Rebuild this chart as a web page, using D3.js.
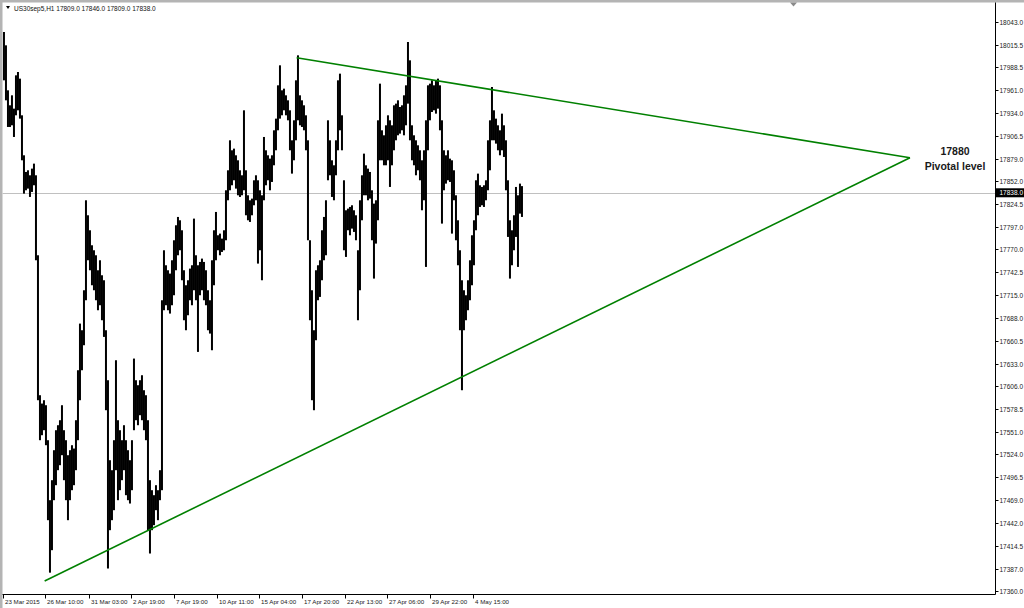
<!DOCTYPE html>
<html><head><meta charset="utf-8">
<script src="https://cdn.jsdelivr.net/npm/d3@7"></script>
<style>body{margin:0;background:#fff}svg{display:block}</style>
</head><body>
<svg id="c" width="1024" height="608"></svg>
<script>
// ---------- data ----------
const symbolTitle = "US30sep5,H1";
const lastOHLC = [17809.0, 17846.0, 17809.0, 17838.0];
const currentPrice = 17838.0;
// one entry = 3 hourly bars (high / low of the group)
const highs = [
18031,18015,17961,17943,17955,17939,17979,17983,17975,17931,
17883,17863,17865,17859,17867,17873,17859,17763,17595,17585,
17589,17583,17541,17469,17493,17529,17553,17559,17565,17583,
17553,17541,17523,17529,17535,17531,17565,17625,17681,17673,
17721,17829,17811,17793,17775,17769,17763,17745,17757,17739,
17733,17673,17613,17517,17505,17541,17637,17565,17553,17541,
17559,17541,17529,17517,17541,17639,17613,17607,17613,17619,
17601,17595,17565,17493,17481,17475,17487,17481,17505,17709,
17769,17751,17745,17741,17757,17781,17799,17809,17805,17793,
17745,17727,17733,17747,17751,17807,17763,17751,17755,17759,
17755,17745,17721,17709,17757,17793,17815,17787,17789,17783,
17793,17841,17865,17901,17889,17891,17883,17877,17865,17859,
17937,17865,17835,17829,17831,17853,17859,17853,17841,17835,
17905,17889,17883,17879,17883,17913,17927,17967,17991,17961,
17963,17955,17949,17937,17901,17925,17973,18003,17955,17949,
17943,17931,17901,17781,17721,17673,17745,17751,17757,17793,
17809,17829,17925,17901,17877,17871,17901,17973,17981,17931,
17853,17817,17819,17821,17823,17817,17811,17769,17829,17859,
17885,17871,17867,17863,17841,17825,17829,17925,17969,17913,
17907,17919,17931,17925,17919,17943,17945,17949,17941,17943,
17955,17967,18019,17997,17919,17907,17901,17895,17889,17877,
17889,17925,17967,17969,17973,17967,17973,17975,17967,17925,
17889,17883,17889,17879,17877,17865,17835,17805,17769,17733,
17721,17715,17733,17757,17787,17805,17853,17861,17847,17845,
17847,17853,17901,17925,17965,17937,17927,17919,17913,17933,
17919,17901,17853,17805,17793,17811,17845,17835,17849,17846];
const lows = [
17973,17949,17917,17917,17919,17905,17931,17937,17927,17877,
17837,17841,17843,17833,17839,17847,17757,17589,17541,17547,
17553,17535,17445,17382,17409,17469,17487,17505,17511,17523,
17493,17469,17445,17469,17481,17487,17505,17541,17589,17625,
17655,17709,17757,17745,17727,17721,17709,17697,17703,17685,
17665,17577,17387,17433,17445,17457,17505,17469,17481,17493,
17505,17475,17469,17465,17481,17553,17565,17559,17571,17565,
17553,17541,17433,17405,17433,17439,17457,17445,17469,17481,
17697,17703,17697,17693,17703,17715,17745,17763,17769,17733,
17685,17673,17691,17709,17703,17721,17709,17647,17715,17721,
17709,17703,17673,17669,17649,17727,17757,17769,17763,17767,
17769,17781,17829,17841,17847,17853,17843,17835,17833,17835,
17841,17811,17805,17803,17811,17823,17829,17753,17769,17733,
17829,17847,17853,17841,17851,17871,17889,17913,17927,17931,
17937,17931,17925,17889,17861,17877,17901,17925,17919,17917,
17913,17889,17781,17685,17589,17577,17661,17709,17713,17733,
17757,17763,17853,17859,17833,17829,17859,17889,17913,17889,
17769,17761,17793,17787,17795,17791,17781,17685,17721,17805,
17835,17835,17829,17831,17781,17735,17777,17805,17877,17877,
17871,17871,17877,17845,17871,17889,17901,17907,17909,17913,
17907,17919,17945,17901,17877,17871,17859,17865,17853,17817,
17829,17749,17889,17925,17935,17937,17933,17939,17913,17801,
17841,17849,17853,17851,17789,17829,17781,17751,17673,17601,
17673,17685,17697,17709,17727,17751,17793,17811,17821,17823,
17821,17829,17841,17865,17901,17901,17897,17889,17883,17889,
17881,17841,17785,17735,17751,17769,17785,17749,17813,17809];
const hoursPerEntry = 3;
const yTickValues = [18043.0,18015.5,17988.5,17961.0,17934.0,17906.5,17879.0,17852.0,17824.5,17797.0,17770.0,17742.5,17715.0,17688.0,17660.5,17633.0,17606.0,17578.5,17551.0,17524.0,17496.5,17469.0,17442.0,17414.5,17387.0,17360.0];
const xTickBars = [0,62,128,192,256,320,384,448,512,576,640,704];
const xTickLabels = ["23 Mar 2015","26 Mar 10:00","31 Mar 03:00","2 Apr 19:00","7 Apr 19:00","10 Apr 11:00","15 Apr 04:00","17 Apr 20:00","22 Apr 13:00","27 Apr 06:00","29 Apr 22:00","4 May 15:00"];
// trend lines: [bar index, price]
const upperTrend = [[440,18000],[1360,17880]];
const lowerTrend = [[62,17372],[1360,17880]];
const pivotText = ["17880","Pivotal level"];

// ---------- layout ----------
const svg = d3.select("#c");
const axisX = 995.5, axisY = 594.5, left = 2.5;
const font = "'Liberation Sans', Arial, sans-serif";
const x = d3.scaleLinear().domain([0,1500]).range([3.3,1003.3]);
const y = d3.scaleLinear().domain([17360,18043]).range([591,22]);

// frame
svg.append("rect").attr("x",0).attr("y",0).attr("width",1024).attr("height",608).attr("fill","#fff");
svg.append("rect").attr("x",0).attr("y",0).attr("width",1024).attr("height",2.5).attr("fill","#b4b4b4");
svg.append("rect").attr("x",0).attr("y",0).attr("width",2.5).attr("height",608).attr("fill","#b4b4b4");
svg.append("path").attr("d","M790,2.5 L797,2.5 L793.5,6.5 Z").attr("fill","#8a8a8a");

// current price line
svg.append("line").attr("x1",left).attr("x2",axisX).attr("y1",Math.round(y(currentPrice))+0.5).attr("y2",Math.round(y(currentPrice))+0.5)
  .attr("stroke","#c0c0c0").attr("stroke-width",1);

// bars
svg.append("g").selectAll("line").data(highs).join("line")
  .attr("x1",(d,i)=>x(i*hoursPerEntry+1)).attr("x2",(d,i)=>x(i*hoursPerEntry+1))
  .attr("y1",d=>y(d)).attr("y2",(d,i)=>y(lows[i]))
  .attr("stroke","#000").attr("stroke-width",2);

// trend lines
[upperTrend, lowerTrend].forEach(t=>{
  svg.append("line").attr("x1",x(t[0][0])).attr("y1",y(t[0][1])).attr("x2",x(t[1][0])).attr("y2",y(t[1][1]))
    .attr("stroke","#008000").attr("stroke-width",1.6);
});

// pivot annotation
svg.append("text").attr("x",955).attr("y",y(upperTrend[1][1])-3).attr("text-anchor","middle")
  .attr("font-family",font).attr("font-weight","bold").attr("font-size",10.5).attr("fill","#1a1a1a").text(pivotText[0]);
svg.append("text").attr("x",955).attr("y",y(upperTrend[1][1])+12).attr("text-anchor","middle")
  .attr("font-family",font).attr("font-weight","bold").attr("font-size",10.5).attr("fill","#1a1a1a").text(pivotText[1]);

// axes lines
svg.append("line").attr("x1",axisX).attr("x2",axisX).attr("y1",2.5).attr("y2",axisY).attr("stroke","#000").attr("stroke-width",1);
svg.append("line").attr("x1",left).attr("x2",axisX).attr("y1",axisY).attr("y2",axisY).attr("stroke","#000").attr("stroke-width",1);

// y ticks
const yg = svg.append("g");
yTickValues.forEach(v=>{
  const yy = Math.round(y(v))+0.5;
  yg.append("line").attr("x1",axisX).attr("x2",axisX+3).attr("y1",yy).attr("y2",yy).attr("stroke","#000");
  yg.append("text").attr("x",axisX+4).attr("y",yy).attr("dominant-baseline","central")
    .attr("font-family",font).attr("font-size",6.5).attr("fill","#222").text(v.toFixed(1));
});
// current price box
const cy = y(currentPrice);
svg.append("rect").attr("x",axisX+0.5).attr("y",cy-4.5).attr("width",28).attr("height",9).attr("fill","#000");
svg.append("text").attr("x",axisX+4).attr("y",cy).attr("dominant-baseline","central")
  .attr("font-family",font).attr("font-size",6.5).attr("fill","#fff").text(currentPrice.toFixed(1));

// x ticks
const xg = svg.append("g");
xTickBars.forEach((b,i)=>{
  const xx = Math.round(x(b))+0.5;
  xg.append("line").attr("x1",xx).attr("x2",xx).attr("y1",axisY).attr("y2",axisY+4).attr("stroke","#000");
  xg.append("text").attr("x",xx+1.5).attr("y",axisY+6.5).attr("dominant-baseline","central")
    .attr("font-family",font).attr("font-size",6.2).attr("fill","#222").text(xTickLabels[i]);
});

// title
svg.append("path").attr("d","M6,6 L10,6 L8,9 Z").attr("fill","#000");
svg.append("text").attr("x",14).attr("y",8).attr("dominant-baseline","central")
  .attr("font-family",font).attr("font-size",6.5).attr("fill","#111")
  .text(symbolTitle+"  "+lastOHLC.map(v=>v.toFixed(1)).join(" "));
</script>
</body></html>
